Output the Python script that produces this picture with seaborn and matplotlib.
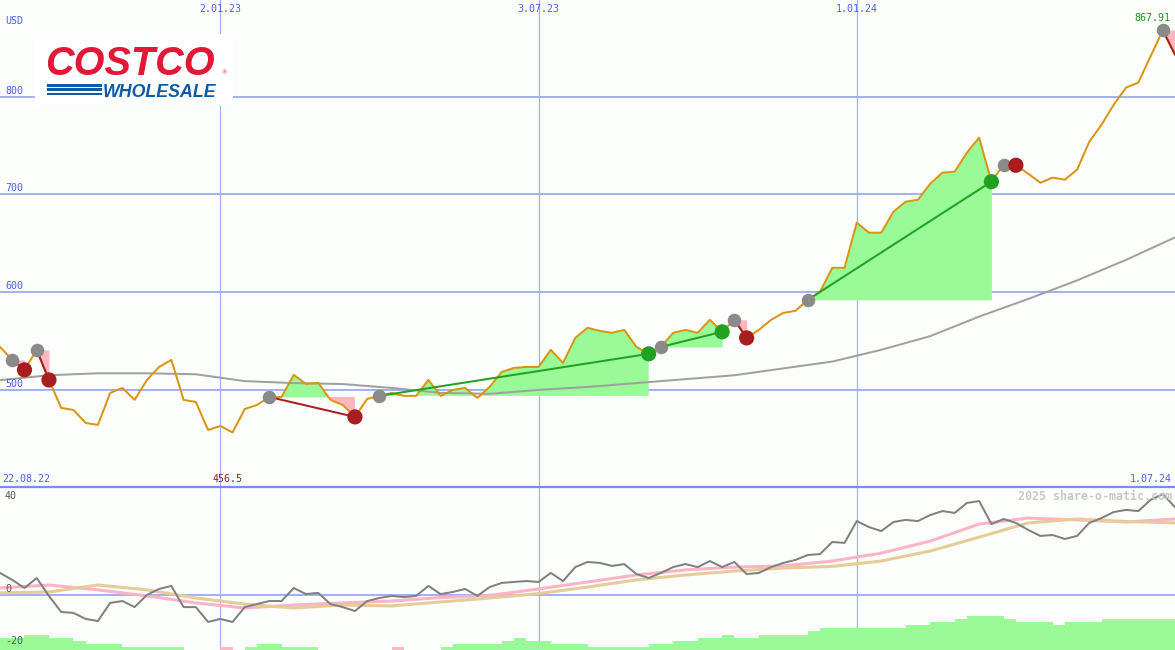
import numpy as np
import pandas as pd
import matplotlib
matplotlib.use("Agg")
import matplotlib.pyplot as plt
import matplotlib.dates as mdates
import seaborn as sns
from matplotlib.patches import Rectangle
from matplotlib.lines import Line2D

# weekly closing prices (USD), 29.08.22 .. 1.07.24
price = [544.0, 530.7, 520.5, 541.0, 510.2, 481.6, 479.5, 466.2, 464.2, 496.9,
         502.0, 489.8, 510.2, 523.5, 530.7, 489.8, 487.7, 459.0, 463.1, 456.5,
         480.5, 484.6, 492.8, 492.8, 515.4, 506.1, 507.2, 489.8, 484.6, 472.4,
         490.8, 493.9, 496.9, 493.9, 493.9, 510.2, 493.9, 500.0, 502.0, 491.8,
         503.1, 518.4, 522.5, 523.5, 523.5, 541.0, 527.6, 553.2, 563.5, 560.4,
         558.4, 561.4, 544.0, 536.9, 544.0, 558.4, 561.4, 558.4, 571.7, 559.4,
         571.7, 553.2, 561.4, 571.7, 578.8, 580.9, 592.2, 600.3, 624.9, 624.9,
         671.0, 660.8, 660.8, 682.3, 692.5, 694.5, 710.9, 722.2, 723.2, 742.7,
         758.0, 713.0, 730.4, 729.8, 721.2, 711.9, 717.1, 715.0, 725.3, 753.9,
         771.3, 791.8, 809.2, 814.3, 841.0, 867.91, 843.0]

# long moving average, read every 4 weeks
ma_long = [510, 515, 517, 517, 516, 509, 507, 506, 502, 497, 496, 500, 503,
           507, 511, 515, 522, 529, 541, 555, 575, 593, 612, 633, 656]

# lower panel: momentum (weekly) and its two smoothings (every 4 weeks)
momentum = [9.5, 6.5, 3.0, 7.3, -0.4, -7.3, -7.7, -10.3, -11.2, -3.4,
            -2.6, -5.2, 0.0, 2.6, 3.9, -5.2, -5.2, -11.6, -10.3, -11.6,
            -5.2, -3.9, -2.6, -2.6, 3.0, 0.4, 0.9, -3.9, -5.2, -6.9,
            -2.6, -1.3, -0.4, -0.9, -0.4, 3.9, 0.4, 1.3, 2.6, -0.4,
            3.4, 5.2, 5.6, 6.0, 5.6, 9.5, 6.0, 12.0, 14.2, 13.8,
            12.5, 13.3, 9.0, 7.3, 9.5, 12.0, 13.3, 12.0, 14.6, 12.0,
            14.2, 9.0, 9.5, 12.0, 13.8, 15.1, 17.2, 17.6, 22.8, 22.4,
            31.8, 29.2, 27.5, 31.4, 32.3, 31.8, 34.4, 36.1, 35.3, 39.6,
            40.4, 30.5, 32.7, 31.0, 28.0, 25.4, 25.8, 24.1, 25.4, 31.0,
            33.1, 35.7, 36.6, 36.1, 40.9, 43.4, 37.8]
mom_fast = [3.0, 4.3, 2.2, -0.4, -3.4, -5.6, -4.3, -3.4, -2.6, -1.1, -0.2, 2.6, 5.6,
            8.6, 10.8, 12.0, 12.5, 14.6, 18.0, 23.2, 30.5, 33.1, 32.3, 31.4, 32.7]
mom_slow = [0.9, 1.3, 4.3, 2.2, -1.3, -3.9, -5.6, -4.3, -4.7, -3.0, -1.3, 0.6, 3.4,
            6.5, 8.6, 10.3, 11.6, 12.3, 14.6, 18.9, 24.9, 31.0, 32.7, 31.6, 31.0]

# trend strength level per week (negative = pink)
strength = [4, 4, 5, 5, 4, 4, 3, 2, 2, 2,
            1, 1, 1, 1, 1, 0, 0, 0, -1, 0,
            1, 2, 2, 1, 1, 1, 0, 0, 0, 0,
            0, 0, -1, 0, 0, 0, 1, 2, 2, 2,
            2, 3, 4, 3, 3, 2, 2, 2, 1, 1,
            1, 1, 1, 2, 2, 3, 3, 4, 4, 5,
            4, 4, 5, 5, 5, 5, 6, 7, 7, 7,
            7, 7, 7, 7, 8, 8, 9, 9, 10, 11,
            11, 11, 10, 9, 9, 9, 8, 9, 9, 9,
            10, 10, 10, 10, 10, 10, 10]

# trades: entry week / exit week (last one still open)
entry_idx = [1, 3, 22, 31, 54, 60, 66, 82, 95]
exit_idx = [2, 4, 29, 53, 59, 61, 81, 83, 96]

grid_dates = ["2023-01-02", "2023-07-03", "2024-01-01"]
grid_labels = ["2.01.23", "3.07.23", "1.01.24"]
price_ticks = [500, 600, 700, 800]

dates = pd.date_range("2022-08-29", periods=len(price), freq="7D")
ma_dates = pd.date_range("2022-08-29", periods=len(ma_long), freq="28D")
price = np.array(price)
num = mdates.date2num

BG = "#FCFEFC"
GRID = "#A4B2F0"
BLUE_TXT = "#4C5EF0"
ORANGE = "#DA9510"
GAIN, LOSS = "#22A022", "#A81E1E"
FILL_GAIN, FILL_LOSS = "#98FB98", "#FFB6C1"
mono = dict(family="DejaVu Sans Mono", fontsize=7.2)

fig = plt.figure(figsize=(11.75, 6.5), dpi=100)
fig.patch.set_facecolor(BG)
ax = fig.add_axes([0, 163 / 650, 1, 487 / 650])
ax2 = fig.add_axes([0, 0, 1, 163 / 650])
xlim = (pd.Timestamp("2022-08-29"), pd.Timestamp("2024-07-01"))

# ---- price panel
for v in price_ticks:
    ax.axhline(v, color=GRID, lw=1.44, zorder=1)
for d in grid_dates:
    ax.axvline(pd.Timestamp(d), color=GRID, lw=0.9, zorder=1)
    ax2.axvline(pd.Timestamp(d), color=GRID, lw=0.9, zorder=1)

for e, x in zip(entry_idx, exit_idx):
    seg_d = dates[e:x + 1]
    seg_p = price[e:x + 1]
    lvl = price[e]
    ax.fill_between(seg_d, lvl, seg_p, where=seg_p >= lvl, interpolate=True,
                    color=FILL_GAIN, lw=0, zorder=2)
    ax.fill_between(seg_d, lvl, seg_p, where=seg_p <= lvl, interpolate=True,
                    color=FILL_LOSS, lw=0, zorder=2)
    sns.lineplot(x=[dates[e], dates[x]], y=[lvl, price[x]], ax=ax,
                 color=GAIN if price[x] > lvl else LOSS, lw=1.44, zorder=5)

sns.lineplot(x=ma_dates, y=ma_long, ax=ax, color="#A0A0A0", lw=1.44, zorder=3)
sns.lineplot(x=dates, y=price, ax=ax, color=ORANGE, lw=1.44, zorder=4)

sns.scatterplot(x=dates[entry_idx], y=price[entry_idx], ax=ax, color="#8A8A8A",
                s=95, linewidth=0, zorder=6)
closed = [(e, x) for e, x in zip(entry_idx, exit_idx) if x < len(price) - 1]
ex = [x for _, x in closed]
res = ["gain" if price[x] > price[e] else "loss" for e, x in closed]
sns.scatterplot(x=dates[ex], y=price[ex], hue=res, palette={"gain": GAIN, "loss": LOSS},
                ax=ax, s=120, linewidth=0, zorder=6, legend=False)

ax.set_xlim(*xlim)
ax.set_ylim(400.7, 898.8)
ax.set_axis_off()

ax.text(5 / 1175, 1 - 21 / 487, "USD", transform=ax.transAxes, color=BLUE_TXT,
        ha="left", va="center", **mono)
for v in price_ticks:
    ax.annotate(str(v), xy=(0, v), xycoords=ax.get_yaxis_transform(), xytext=(5, 6),
                textcoords="offset pixels", ha="left", va="center", color=BLUE_TXT, **mono)
for d, lbl in zip(grid_dates, grid_labels):
    ax.annotate(lbl, xy=(num(pd.Timestamp(d)), 1), xycoords=ax.get_xaxis_transform(),
                xytext=(0, -9), textcoords="offset pixels", ha="center", va="center",
                color=BLUE_TXT, **mono)
ax.annotate("22.08.22", xy=(0, 0), xycoords="axes fraction", xytext=(2, 8),
            textcoords="offset pixels", ha="left", va="center", color=BLUE_TXT, **mono)
ax.annotate("1.07.24", xy=(1, 0), xycoords="axes fraction", xytext=(-3, 8),
            textcoords="offset pixels", ha="right", va="center", color=BLUE_TXT, **mono)
imin = int(np.argmin(price))
ax.annotate(f"{price[imin]:g}", xy=(num(dates[imin]), 0), xycoords=ax.get_xaxis_transform(),
            xytext=(-5, 8), textcoords="offset pixels", ha="center", va="center",
            color="#A01818", **mono)
ax.annotate(f"{price[95]:.2f}", xy=(num(dates[95]), price[95]), xytext=(-10, 12),
            textcoords="offset pixels", ha="center", va="center", color="#229022", **mono)

# ---- lower panel
ax2.axhline(0, color=GRID, lw=1.44, zorder=1)
sns.lineplot(x=ma_dates, y=mom_fast, ax=ax2, color="#FFB3C6", lw=2.2, zorder=2)
sns.lineplot(x=ma_dates, y=mom_slow, ax=ax2, color="#E6CC98", lw=2.2, zorder=3)
sns.lineplot(x=dates, y=momentum, ax=ax2, color="#808080", lw=1.44, zorder=4)
ax2.set_xlim(*xlim)
ax2.set_ylim(-23.66, 46.45)
ax2.set_axis_off()

axb = ax2.twinx()
axb.bar(dates, np.abs(strength), width=pd.Timedelta(days=7), align="edge",
        color=[FILL_GAIN if s > 0 else FILL_LOSS for s in strength], lw=0)
axb.set_xlim(*xlim)
axb.set_ylim(0, 163 / 3.09)
axb.set_axis_off()

# value labels go on the twin so they sit above the bars
for v, dy in [(40, 6), (0, 6), (-20, 0)]:
    axb.annotate(str(v), xy=(0, v), xycoords=ax2.get_yaxis_transform(), xytext=(5, dy),
                 textcoords="offset pixels", ha="left", va="center", color="#555555",
                 zorder=5, **mono)
axb.text(1172 / 1175, 1 - 9 / 163, "2025 share-o-matic.com", transform=axb.transAxes,
         ha="right", va="center", color="#C8C8C8", fontweight="bold",
         family="DejaVu Sans Mono", fontsize=8.4)

# separator between the panels
fig.add_artist(Line2D([0, 1], [1 - 486.8 / 650] * 2, transform=fig.transFigure,
                      color="#7B8BEE", lw=1.6))

# ---- logo
fx = lambda px: px / 1175
fy = lambda py: 1 - py / 650
fig.add_artist(Rectangle((fx(35), fy(106)), fx(233) - fx(35), (106 - 34) / 650,
                         transform=fig.transFigure, facecolor="white", edgecolor="none",
                         zorder=1))
for y0 in (84, 88.3, 92.6):
    fig.add_artist(Rectangle((fx(47), fy(y0 + 2.6)), 55 / 1175, 2.6 / 650,
                             transform=fig.transFigure, facecolor="#0D5AA7",
                             edgecolor="none", zorder=2))
fig.text(fx(45), fy(75), "COSTCO", fontsize=28.5, fontweight="bold", fontstyle="italic",
         family="Liberation Sans", color="#E31837", ha="left", va="baseline")
fig.text(fx(103), fy(96.6), "WHOLESALE", fontsize=12.8, fontweight="bold",
         fontstyle="italic", family="Liberation Sans", color="#0D5AA7",
         ha="left", va="baseline")
fig.text(fx(221), fy(74), "\u00ae", fontsize=4, color="#E31837", ha="left", va="baseline")

fig.savefig("out.png", dpi=100, facecolor=BG)
